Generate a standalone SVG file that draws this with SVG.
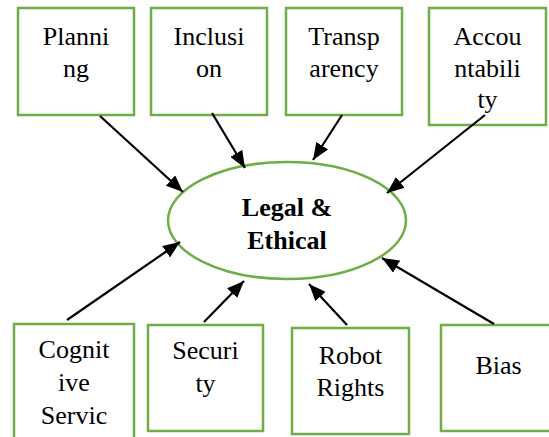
<svg xmlns="http://www.w3.org/2000/svg" width="549" height="437" viewBox="0 0 549 437">
<defs>
<style>
.box{fill:#fff;stroke:#70AD47;stroke-width:2.5}
.t{font-family:"Liberation Serif","Times New Roman",serif;font-size:26px;fill:#000;text-anchor:middle}
.b{font-weight:bold}
.c{stroke:#000;stroke-width:2.2;fill:none;marker-end:url(#ah)}
</style>
<marker id="ah" markerUnits="userSpaceOnUse" markerWidth="18" markerHeight="14" refX="17" refY="7" orient="auto" viewBox="0 0 18 14">
<path d="M0,0 L17,7 L0,14 z" fill="#000"/>
</marker>
</defs>
<rect width="549" height="437" fill="#fff"/>
<g id="center">
<ellipse cx="287" cy="220.5" rx="119" ry="58.5" fill="#fff" stroke="#70AD47" stroke-width="2.5"/>
<text class="t b" x="287" y="216">Legal &amp;</text>
<text class="t b" x="287" y="249">Ethical</text>
</g>
<g id="planning">
<rect class="box" x="18" y="8" width="116" height="107"/>
<text class="t" x="76" y="45">Planni</text>
<text class="t" x="76" y="77">ng</text>
</g>
<g id="inclusion">
<rect class="box" x="151" y="8" width="116" height="107"/>
<text class="t" x="209" y="45">Inclusi</text>
<text class="t" x="209" y="77">on</text>
</g>
<g id="transparency">
<rect class="box" x="286" y="8" width="116" height="107"/>
<text class="t" x="344" y="45">Transp</text>
<text class="t" x="344" y="77">arency</text>
</g>
<g id="accountability">
<rect class="box" x="429" y="8" width="117" height="117"/>
<text class="t" x="487.5" y="45">Accou</text>
<text class="t" x="487.5" y="77">ntabili</text>
<text class="t" x="487.5" y="108">ty</text>
</g>
<g id="cognitive">
<rect class="box" x="14" y="324" width="120" height="120"/>
<text class="t" x="74" y="358">Cognit</text>
<text class="t" x="74" y="391">ive</text>
<text class="t" x="74" y="424">Servic</text>
</g>
<g id="security">
<rect class="box" x="148" y="325" width="115" height="106"/>
<text class="t" x="205.5" y="359">Securi</text>
<text class="t" x="205.5" y="392">ty</text>
</g>
<g id="robot">
<rect class="box" x="292" y="328" width="117" height="106"/>
<text class="t" x="350.5" y="364">Robot</text>
<text class="t" x="350.5" y="396">Rights</text>
</g>
<g id="bias">
<rect class="box" x="441" y="325" width="116" height="106"/>
<text class="t" x="498.5" y="374">Bias</text>
</g>
<g id="connectors">
<line class="c" x1="100" y1="116" x2="183" y2="192"/>
<line class="c" x1="212" y1="113" x2="245" y2="168"/>
<line class="c" x1="342" y1="115" x2="313" y2="160"/>
<line class="c" x1="485" y1="115" x2="387" y2="193"/>
<line class="c" x1="67" y1="320" x2="180" y2="242"/>
<line class="c" x1="204" y1="322" x2="244" y2="281"/>
<line class="c" x1="347" y1="325" x2="309" y2="284"/>
<line class="c" x1="494" y1="324" x2="382" y2="258"/>
</g>
</svg>
